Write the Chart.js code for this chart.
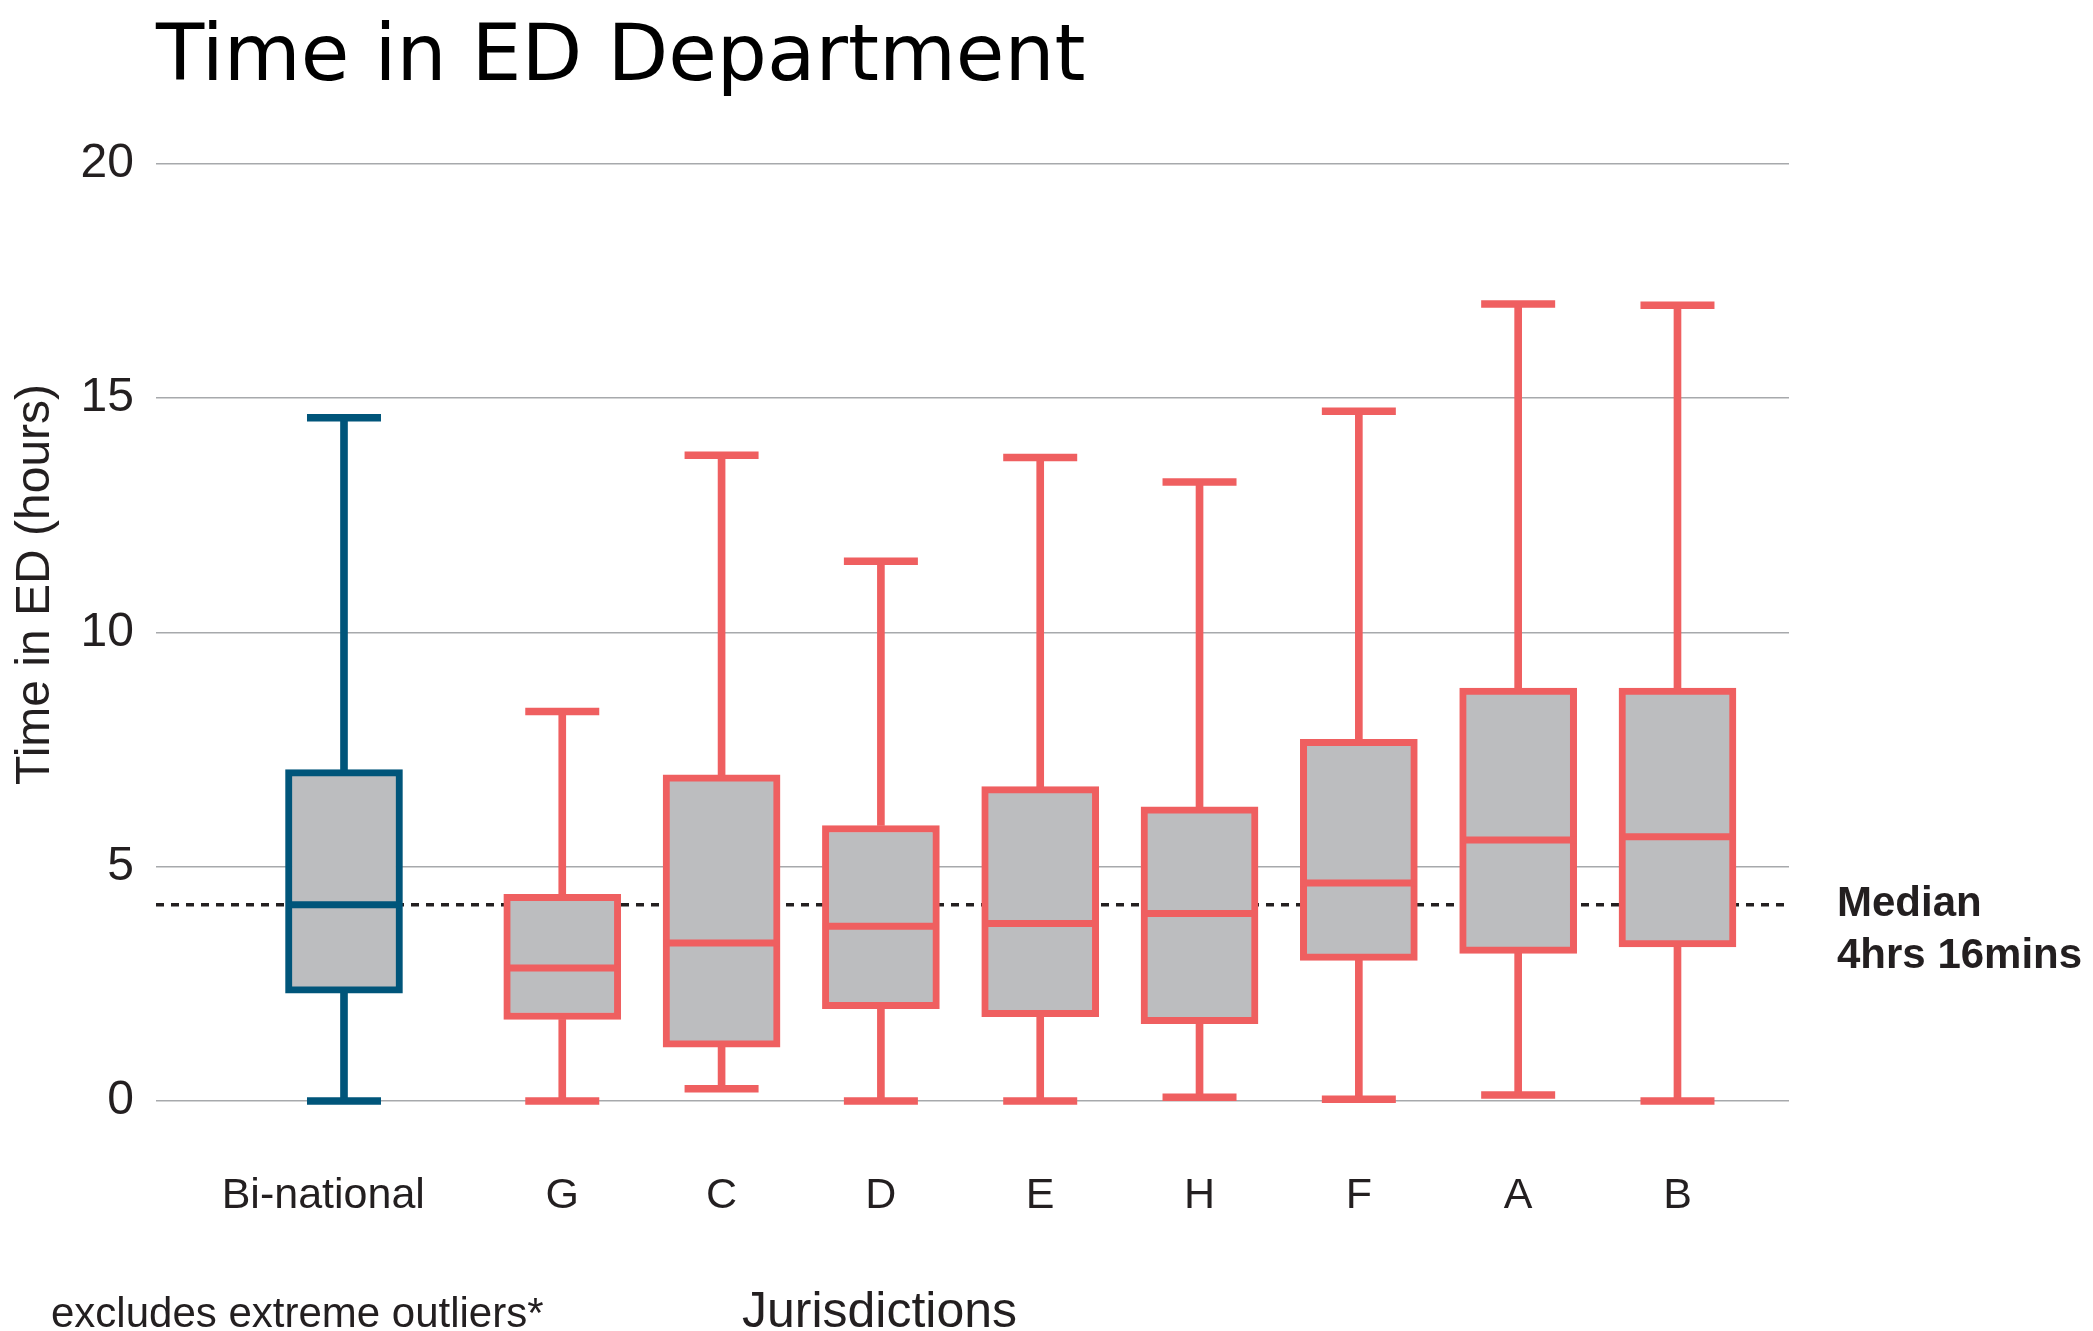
<!DOCTYPE html>
<html>
<head>
<meta charset="utf-8">
<title>Time in ED Department</title>
<script src="https://cdn.jsdelivr.net/npm/chart.js@4.4.1/dist/chart.umd.min.js"></script>
<style>
  html, body { margin: 0; padding: 0; background: #fff; overflow: hidden; }
  canvas { display: block; }
</style>
</head>
<body>
<canvas id="edChart" width="2093" height="1331"></canvas>
<script>
// Box plot values in hours
const categories = ['Bi-national', 'G', 'C', 'D', 'E', 'H', 'F', 'A', 'B'];
const whiskerLow  = [0,     0,     0.26,  0,     0,     0.08,  0.04,  0.13,  0];
const quartile1   = [2.30,  1.74,  1.15,  1.97,  1.80,  1.65,  3.00,  3.15,  3.29];
const medians     = [4.19,  2.84,  3.37,  3.73,  3.79,  4.00,  4.65,  5.57,  5.64];
const quartile3   = [7.07,  4.41,  6.96,  5.88,  6.71,  6.28,  7.72,  8.81,  8.81];
const whiskerHigh = [14.58, 8.31,  13.78, 11.52, 13.73, 13.21, 14.72, 17.01, 16.98];
const overallMedian = 4.19; // drawn where the picture puts "4hrs 16mins"
const medianNote = ['Median', '4hrs 16mins'];
const yTicks = [0, 5, 10, 15, 20];

// colours
const BLUE = '#00557a';
const RED = '#ef5f60';
const BOX_FILL = '#bcbdbf';
const INK = '#231f20';
const SANS = "'Liberation Sans', Arial, Helvetica, sans-serif";

// Bi-national sits a little apart from the jurisdictions
const GROUP_GAP = 0.37;
const xAt = i => (i === 0 ? 0 : i + GROUP_GAP);
// the Bi-national label is set slightly left of its box
const labelAt = i => (i === 0 ? xAt(i) - 0.13 : xAt(i));
const colours = categories.map((c, i) => (i === 0 ? BLUE : RED));

const boxData = categories.map((c, i) => ({ x: xAt(i), y: [quartile1[i], quartile3[i]] }));
const upperWhiskers = categories.map((c, i) => ({ x: xAt(i), y: [quartile3[i], whiskerHigh[i]] }));
const lowerWhiskers = categories.map((c, i) => ({ x: xAt(i), y: [whiskerLow[i], quartile1[i]] }));
const medianPoints = categories.map((c, i) => ({ x: xAt(i), y: medians[i] }));
const topCaps = categories.map((c, i) => ({ x: xAt(i), y: whiskerHigh[i] }));
const bottomCaps = categories.map((c, i) => ({ x: xAt(i), y: whiskerLow[i] }));

// dashed overall median line and the free text around the plot
const edAnnotations = {
  id: 'edAnnotations',
  beforeDatasetsDraw(chart) {
    const { ctx, chartArea, scales } = chart;
    const y = scales.y.getPixelForValue(overallMedian);
    ctx.save();
    ctx.strokeStyle = INK;
    ctx.lineWidth = 3.5;
    ctx.setLineDash([8, 7]);
    ctx.beginPath();
    ctx.moveTo(chartArea.left, y);
    ctx.lineTo(chartArea.right, y);
    ctx.stroke();
    ctx.restore();
  },
  afterDraw(chart) {
    const { ctx, chartArea, scales } = chart;
    const y = scales.y.getPixelForValue(overallMedian);
    ctx.save();
    ctx.fillStyle = INK;
    ctx.textBaseline = 'middle';
    ctx.textAlign = 'left';

    ctx.font = 'bold 42px ' + SANS;
    ctx.fillText(medianNote[0], chartArea.right + 48, y);
    ctx.fillText(medianNote[1], chartArea.right + 48, y + 52);

    ctx.font = '48px ' + SANS;
    ctx.save();
    ctx.translate(36, (chartArea.top + chartArea.bottom) / 2 - 48);
    ctx.rotate(-Math.PI / 2);
    ctx.textAlign = 'center';
    ctx.fillText('Time in ED (hours)', 0, 0);
    ctx.restore();

    ctx.font = '42px ' + SANS;
    ctx.fillText('excludes extreme outliers*', 51, chart.height - 16);
    ctx.font = '50px ' + SANS;
    ctx.fillText('Jurisdictions', 742, chart.height - 18);
    ctx.restore();
  }
};

const chart = new Chart(document.getElementById('edChart'), {
  type: 'bar',
  data: {
    datasets: [
      {
        label: 'Upper whisker',
        data: upperWhiskers,
        backgroundColor: colours,
        barThickness: 7,
        grouped: false,
        clip: false,
        order: 3
      },
      {
        label: 'Lower whisker',
        data: lowerWhiskers,
        backgroundColor: colours,
        barThickness: 7,
        grouped: false,
        clip: false,
        order: 3
      },
      {
        label: 'Interquartile range',
        data: boxData,
        backgroundColor: BOX_FILL,
        borderColor: colours,
        borderWidth: 7,
        borderSkipped: false,
        barThickness: 117,
        grouped: false,
        clip: false,
        order: 2
      },
      {
        type: 'line',
        label: 'Median',
        data: medianPoints,
        showLine: false,
        pointStyle: 'line',
        pointRadius: 58,
        pointBorderWidth: 7,
        pointBorderColor: colours,
        clip: false,
        order: 1
      },
      {
        type: 'line',
        label: 'Max',
        data: topCaps,
        showLine: false,
        pointStyle: 'line',
        pointRadius: 37,
        pointBorderWidth: 7.5,
        pointBorderColor: colours,
        clip: false,
        order: 1
      },
      {
        type: 'line',
        label: 'Min',
        data: bottomCaps,
        showLine: false,
        pointStyle: 'line',
        pointRadius: 37,
        pointBorderWidth: 7.5,
        pointBorderColor: colours,
        clip: false,
        order: 1
      }
    ]
  },
  options: {
    responsive: false,
    animation: false,
    events: [],
    layout: { padding: { top: 0, right: 304, bottom: 0, left: 0 } },
    plugins: {
      legend: { display: false },
      tooltip: { enabled: false },
      title: {
        display: true,
        text: 'Time in ED Department',
        align: 'start',
        fullSize: false,
        color: '#000',
        font: { family: "'DejaVu Sans', sans-serif", size: 79, weight: 'normal' },
        padding: { top: 12, bottom: 57 }
      }
    },
    scales: {
      x: {
        type: 'linear',
        min: -1.18,
        max: 9.07,
        offset: false,
        grid: { display: false },
        border: { display: false },
        afterBuildTicks: scale => {
          scale.ticks = categories.map((c, i) => ({ value: labelAt(i) }));
        },
        afterFit: scale => { scale.height = 230; },
        ticks: {
          autoSkip: false,
          maxRotation: 0,
          padding: 61,
          color: INK,
          font: { family: SANS, size: 43 },
          callback: (value, index) => categories[index]
        }
      },
      y: {
        min: 0,
        max: 20,
        afterBuildTicks: scale => {
          scale.ticks = yTicks.map(v => ({ value: v }));
        },
        afterFit: scale => { scale.width = 156; },
        grid: { color: '#a7a9ac', lineWidth: 1.5, drawTicks: false },
        border: { display: false },
        ticks: {
          padding: 22,
          color: INK,
          font: { family: SANS, size: 48 }
        }
      }
    }
  },
  plugins: [edAnnotations]
});
</script>
</body>
</html>
